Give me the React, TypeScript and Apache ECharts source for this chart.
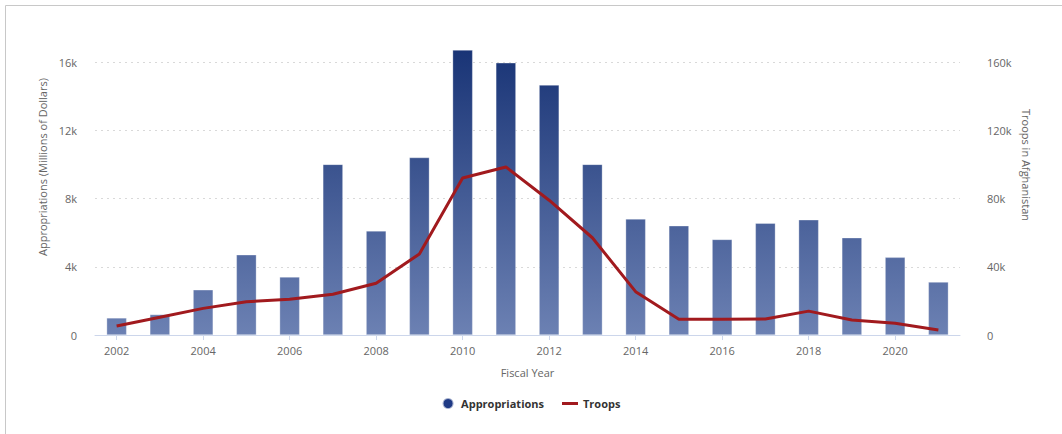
import React, { useEffect, useRef } from "react";
import * as echarts from "echarts";

const years = ["2002","2003","2004","2005","2006","2007","2008","2009","2010","2011","2012","2013","2014","2015","2016","2017","2018","2019","2020","2021"];
const appropriations = [1000, 1200, 2650, 4700, 3400, 10000, 6100, 10400, 16700, 15950, 14650, 10000, 6800, 6400, 5600, 6550, 6750, 5700, 4550, 3100];
const troops = [5300, 10400, 15600, 19500, 20900, 23900, 30300, 47500, 92000, 98500, 79000, 57000, 25400, 9200, 9200, 9400, 14000, 8800, 6900, 2900];
const leftTicks = [0, 4000, 8000, 12000, 16000];
const rightTicks = [0, 40000, 80000, 120000, 160000];

const fmtK = (v: number) => (v === 0 ? "0" : v / 1000 + "k");
const font = "'Open Sans', 'Noto Sans', sans-serif";

export default function App() {
  const ref = useRef<HTMLDivElement>(null);
  useEffect(() => {
    document.body.style.margin = "0";
    const chart = echarts.init(ref.current!, null, { renderer: "svg" });
    const barGrad = new echarts.graphic.LinearGradient(0, 50, 0, 335, [
      { offset: 0, color: "#193476" },
      { offset: 1, color: "#6c81b3" },
    ], true);
    chart.setOption({
      animation: false,
      backgroundColor: "#ffffff",
      textStyle: { fontFamily: font },
      grid: { left: 95, right: 102, top: 62, bottom: 99 },
      legend: {
        bottom: 19,
        left: "center",
        itemWidth: 16,
        itemHeight: 11,
        itemGap: 18,
        textStyle: { color: "#333", fontSize: 11, fontWeight: "bold", fontFamily: font },
        data: [
          { name: "Appropriations", icon: "circle", itemStyle: { color: "#1f3a85" } },
          { name: "Troops", icon: "path://M0,0H16V3H0Z", itemStyle: { color: "#a11a1e" } },
        ],
      },
      xAxis: {
        type: "category",
        data: years,
        name: "Fiscal Year",
        nameLocation: "middle",
        nameGap: 32,
        nameTextStyle: { color: "#666", fontSize: 11 },
        axisLine: { lineStyle: { color: "#ccd6eb" } },
        axisTick: { show: true, alignWithLabel: true, interval: 1, length: 5, lineStyle: { color: "#ccd6eb" } },
        axisLabel: { interval: 1, color: "#666", fontSize: 11, margin: 10 },
      },
      yAxis: [
        {
          type: "value",
          min: 0,
          max: 16000,
          interval: 4000,
          axisLine: { show: false },
          axisTick: { show: false },
          axisLabel: { color: "#666", fontSize: 11, margin: 18, formatter: (v: number) => (leftTicks.includes(v) ? fmtK(v) : "") },
          splitLine: { lineStyle: { color: "#d9d9d9", type: [2, 4], width: 1 } },
        },
        {
          type: "value",
          min: 0,
          max: 160000,
          interval: 40000,
          axisLine: { show: false },
          axisTick: { show: false },
          axisLabel: { color: "#666", fontSize: 11, margin: 27, formatter: (v: number) => (rightTicks.includes(v) ? fmtK(v) : "") },
          splitLine: { show: false },
        },
      ],
      graphic: [
        { type: "rect", shape: { x: 5.5, y: 5.5, width: 1070, height: 450 }, style: { fill: "none", stroke: "#c8c8c8", lineWidth: 1 }, silent: true },
        { type: "text", x: 42, y: 167, rotation: Math.PI / 2, style: { text: "Appropriations (Millions of Dollars)", fill: "#666", font: "11px " + font, align: "center", verticalAlign: "middle" } },
        { type: "text", x: 1026, y: 165, rotation: -Math.PI / 2, style: { text: "Troops in Afghanistan", fill: "#666", font: "11px " + font, align: "center", verticalAlign: "middle" } },
      ],
      series: [
        {
          name: "Appropriations",
          type: "bar",
          data: appropriations,
          yAxisIndex: 0,
          barWidth: 20,
          clip: false,
          itemStyle: { color: barGrad, borderColor: "rgba(255,255,255,0.6)", borderWidth: 0.5 },
        },
        {
          name: "Troops",
          type: "line",
          data: troops,
          yAxisIndex: 1,
          showSymbol: false,
          symbol: "none",
          lineStyle: { color: "#a11a1e", width: 3 },
          itemStyle: { color: "#a11a1e" },
          z: 3,
        },
      ],
    });
    return () => chart.dispose();
  }, []);
  return <div ref={ref} style={{ width: 1062, height: 434 }} />;
}
